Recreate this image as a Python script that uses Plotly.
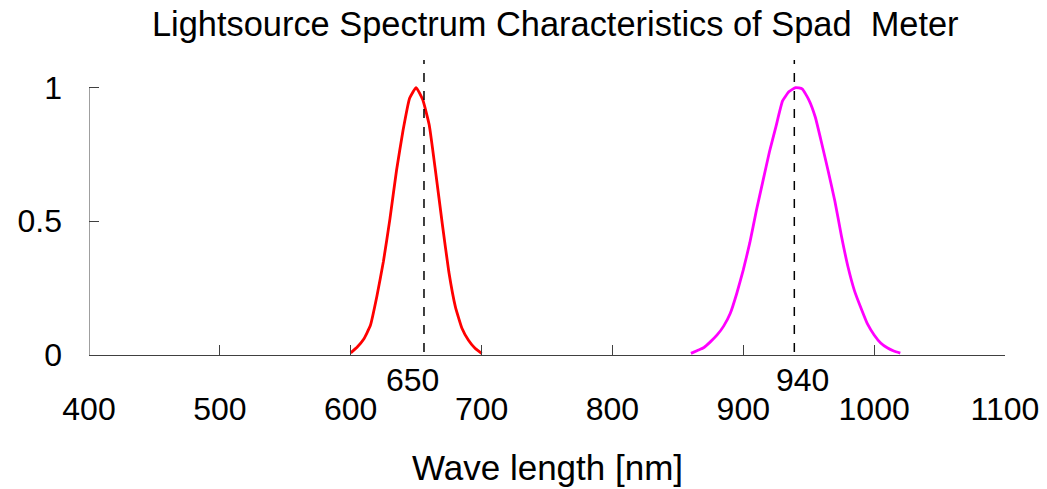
import plotly.graph_objects as go

# Data
red_nm = [600, 605, 610, 615, 620, 625, 630, 635, 640, 645, 650, 655, 660, 665, 670, 675, 680, 685, 690, 695, 700]
red_val = [0.008, 0.03, 0.06, 0.11, 0.22, 0.35, 0.51, 0.69, 0.84, 0.96, 1.0, 0.955, 0.86, 0.68, 0.49, 0.31, 0.18, 0.10, 0.055, 0.025, 0.006]

ir_nm = [860, 865, 870, 875, 880, 885, 890, 895, 900, 905, 910, 915, 920, 925, 930, 935, 940,
         945, 950, 955, 960, 965, 970, 975, 980, 985, 990, 995, 1000, 1005, 1010, 1015, 1020]
ir_val = [0.006, 0.017, 0.028, 0.05, 0.075, 0.108, 0.155, 0.23, 0.318, 0.42, 0.54, 0.65, 0.76, 0.855, 0.95, 0.985, 1.0,
          0.995, 0.955, 0.89, 0.79, 0.685, 0.575, 0.445, 0.33, 0.24, 0.175, 0.115, 0.075, 0.045, 0.027, 0.015, 0.007]

peak_line_nm = [656, 939]
peak_label_nm = [647, 945]
peak_labels = ["650", "940"]

x_ticks = [400, 500, 600, 700, 800, 900, 1000, 1100]
y_ticks = [0, 0.5, 1]
y_tick_text = ["0", "0.5", "1"]

FONT = "Liberation Sans, Arial, sans-serif"
AX = "#404040"

fig = go.Figure()
fig.add_trace(go.Scatter(x=red_nm, y=red_val, mode="lines",
                         line=dict(color="#FF0000", width=2.8, shape="spline", smoothing=0.4),
                         showlegend=False, hoverinfo="skip"))
fig.add_trace(go.Scatter(x=ir_nm, y=ir_val, mode="lines",
                         line=dict(color="#FF00FF", width=2.8, shape="spline", smoothing=0.4),
                         showlegend=False, hoverinfo="skip"))

for xv in peak_line_nm:
    fig.add_shape(type="line", xref="x", yref="y", x0=xv, x1=xv, y0=0.011, y1=1.103,
                  line=dict(color="black", width=1.5, dash="dash"))

# y axis line from 0 to 1 only
fig.add_shape(type="line", xref="x", yref="y", x0=400, x1=400, y0=0, y1=1,
              line=dict(color=AX, width=1))

for xv, t in zip(peak_label_nm, peak_labels):
    fig.add_annotation(x=xv, xref="x", y=0, yref="paper", yshift=-25, yanchor="middle",
                       text=t, showarrow=False, font=dict(size=32, color="black", family=FONT))

# x axis title as annotation for exact placement
fig.add_annotation(x=0.5, xref="paper", y=0, yref="paper", yshift=-112, yanchor="middle",
                   text="Wave length [nm]", showarrow=False,
                   font=dict(size=35, color="black", family=FONT))

fig.update_layout(
    width=1047, height=489,
    margin=dict(l=89, r=42, t=60, b=134, autoexpand=False),
    paper_bgcolor="white", plot_bgcolor="white",
    font=dict(family=FONT, color="black"),
    title=dict(text="Lightsource Spectrum Characteristics of Spad  Meter",
               x=0.509, xref="paper", xanchor="center",
               y=1 - 24 / 489, yref="container", yanchor="middle",
               font=dict(size=34.4, color="black", family=FONT)),
    xaxis=dict(range=[400, 1100], tickvals=x_ticks, ticktext=[str(v) for v in x_ticks],
               ticks="inside", ticklen=10, tickcolor=AX, tickwidth=1,
               showline=True, linecolor=AX, linewidth=1, showgrid=False, zeroline=False,
               automargin=False,
               tickfont=dict(size=32, color="black", family=FONT), ticklabelstandoff=26),
    yaxis=dict(range=[0, 1.103], tickvals=y_ticks, ticktext=y_tick_text,
               ticks="inside", ticklen=10, tickcolor=AX, tickwidth=1,
               showline=False, showgrid=False, zeroline=False, automargin=False,
               tickfont=dict(size=32, color="black", family=FONT), ticklabelstandoff=26),
)

fig.write_html("out.html", config={"displayModeBar": False},
               post_script="document.body.style.margin='0';document.body.style.overflow='hidden';")
